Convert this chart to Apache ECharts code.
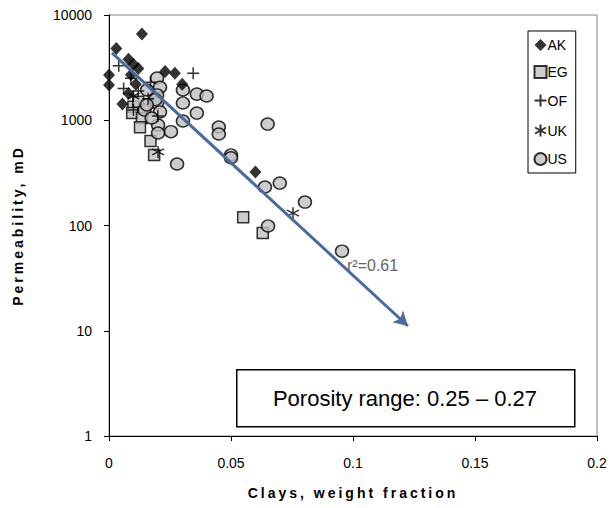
<!DOCTYPE html>
<html><head><meta charset="utf-8">
<script src="https://cdn.jsdelivr.net/npm/echarts@6/dist/echarts.min.js"></script>
<style>html,body{margin:0;padding:0;background:#fff}#c{width:613px;height:508px}</style>
</head><body><div id="c"></div>
<script>
const seriesNames = ['AK','EG','OF','UK','US'];
const AK = [[0,2690],[0,2160],[0.003,4800],[0.0135,6600],[0.0055,1430],[0.008,3800],[0.010,3400],[0.012,3100],[0.009,2700],[0.011,2200],[0.008,1800],[0.023,2900],[0.027,2800],[0.030,2200],[0.060,322]];
const EG = [[0.010,1340],[0.0095,1170],[0.0135,1050],[0.0127,860],[0.017,635],[0.0185,468],[0.012,1500],[0.055,120],[0.063,85]];
const OF = [[0.0345,2800],[0.006,2000],[0.009,2500],[0.012,1900],[0.016,1600],[0.010,1250],[0.020,1100],[0.004,3300],[0.017,2300]];
const UK = [[0.0201,500],[0.0754,131],[0.010,1700]];
const US = [[0.0197,2520],[0.0209,2060],[0.0197,1740],[0.0197,1460],[0.0209,1200],[0.0201,900],[0.0201,756],[0.0254,779],[0.0279,384],[0.0303,1940],[0.0303,1460],[0.036,1770],[0.040,1700],[0.036,1170],[0.0303,984],[0.045,863],[0.045,740],[0.065,920],[0.050,468],[0.050,440],[0.0639,232],[0.070,253],[0.0803,167],[0.0652,99],[0.0955,57],[0.0156,1940],[0.019,1570],[0.0145,1250],[0.0175,1050],[0.0155,1400]];
const regStart = [0.0012, 4360];
const regEnd = [0.1225, 11.1];
const xTicks = [0, 0.05, 0.1, 0.15, 0.2];
const yTicks = [1, 10, 100, 1000, 10000];
const xTitle = 'Clays, weight fraction';
const yTitle = 'Permeability, mD';
const r2Label = 'r²=0.61';
const boxLabel = 'Porosity range: 0.25 – 0.27';

const FONT = 'Liberation Sans, Arial, sans-serif';
const plusPath = 'path://M5,0L5,10M0,5L10,5';
const starPath = 'path://M5,0L5,10M0.5,2.5L9.5,7.5M0.5,7.5L9.5,2.5';

const chart = echarts.init(document.getElementById('c'), null, {renderer:'svg'});
const option = {
  animation: false,
  textStyle: {fontFamily: FONT},
  grid: {left:109, right:16, top:15, bottom:72, show:true, borderColor:'#808080', borderWidth:1},
  xAxis: {
    type:'value', min:0, max:0.2, interval:0.05,
    axisLine:{lineStyle:{color:'#000', width:1}},
    axisTick:{show:true, length:5, lineStyle:{color:'#000'}},
    splitLine:{show:false},
    axisLabel:{color:'#000', fontFamily:FONT, fontSize:14, margin:20,
      formatter: v => xTicks.indexOf(v) >= 0 ? String(v) : ''},
    name:xTitle, nameLocation:'middle', nameGap:50,
    nameTextStyle:{fontFamily:FONT, fontWeight:'bold', fontSize:14, color:'#000'}
  },
  yAxis: {
    type:'log', logBase:10, min:1, max:10000,
    axisLine:{lineStyle:{color:'#000', width:1}},
    axisTick:{show:true, length:5, lineStyle:{color:'#000'}},
    minorTick:{show:false},
    splitLine:{show:false},
    axisLabel:{color:'#000', fontFamily:FONT, fontSize:14, margin:17,
      formatter: v => yTicks.indexOf(Math.round(v)) >= 0 ? String(Math.round(v)) : ''},
    name:yTitle, nameLocation:'middle', nameGap:84,
    nameTextStyle:{fontFamily:FONT, fontWeight:'bold', fontSize:14, color:'#000'}
  },
  legend: {
    orient:'vertical', left:528, top:31, width:60,
    data: seriesNames,
    itemWidth:12, itemHeight:12, itemGap:13,
    padding:[7,8,7,4],
    borderColor:'#000', borderWidth:1,
    textStyle:{fontFamily:FONT, fontSize:14, color:'#000', padding:[0,0,0,-4]}
  },
  series: [
    {name:'AK', type:'scatter', data:AK, symbol:'diamond', symbolSize:[12,13],
      itemStyle:{color:'#000', borderColor:'#000', borderWidth:0}, z:3},
    {name:'EG', type:'scatter', data:EG, symbol:'rect', symbolSize:[11,11],
      itemStyle:{color:'#c0c0c0', borderColor:'#000', borderWidth:1.5}, z:2},
    {name:'OF', type:'scatter', data:OF, symbol:plusPath, symbolSize:[12,12],
      itemStyle:{color:'none', borderColor:'#000', borderWidth:1.5}, z:4},
    {name:'UK', type:'scatter', data:UK, symbol:starPath, symbolSize:[12,12],
      itemStyle:{color:'none', borderColor:'#000', borderWidth:1.5}, z:4},
    {name:'US', type:'scatter', data:US, symbol:'circle', symbolSize:[13,12],
      itemStyle:{color:'#c0c0c0', borderColor:'#000', borderWidth:1.5}, z:2},
    {name:'reg', type:'line', data:[], z:6,
      markLine:{silent:true, symbol:['none','arrow'], symbolSize:[12,14], label:{show:false},
        lineStyle:{color:'#4a6b9b', width:3, type:'solid'},
        data:[[{coord:regStart},{coord:regEnd}]]}}
  ],
  graphic: [
    {type:'text', x:347, y:257, style:{text:r2Label, fontFamily:FONT, fontSize:16, fill:'#666'}},
    {type:'rect', left:236, top:369, shape:{width:338, height:57}, style:{fill:'#fff', stroke:'#000', lineWidth:1.5}, z:10},
    {type:'text', x:405, y:398, z:11, style:{text:boxLabel, fontFamily:FONT, fontSize:22, fill:'#000', align:'center', verticalAlign:'middle'}}
  ]
};
chart.setOption(option);
function spaceTitles(){
  document.querySelectorAll('#c svg text').forEach(t => {
    const s = t.textContent;
    if (s === xTitle || s === yTitle) t.style.letterSpacing = '3px';
  });
}
spaceTitles();
chart.on('finished', spaceTitles);
setTimeout(spaceTitles, 0);
</script></body></html>
